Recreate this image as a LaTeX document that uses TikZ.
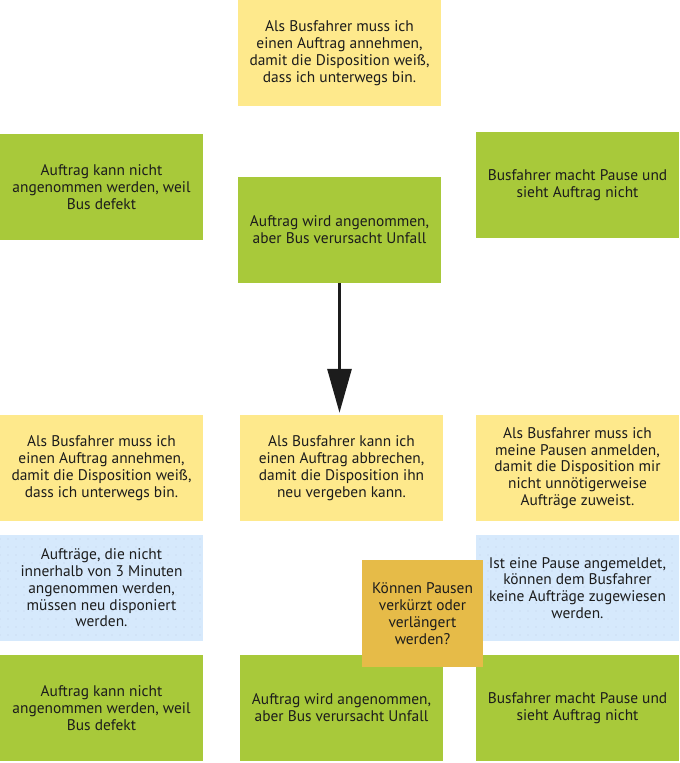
\documentclass[tikz,border=0pt]{standalone}
\usepackage{fontspec}
\setmainfont{PT Sans}
\usetikzlibrary{arrows.meta,patterns.meta}

\definecolor{stickyyellow}{HTML}{FEE98C}
\definecolor{stickygreen}{HTML}{A8C93A}
\definecolor{stickyblue}{HTML}{D6E9FC}
\definecolor{stickyorange}{HTML}{E6BB48}
\definecolor{inkdark}{HTML}{1C1C1C}

\tikzdeclarepattern{
  name=sparsedots,
  type=uncolored,
  bottom left={(-1pt,-1pt)},
  top right={(1pt,1pt)},
  tile size={(8pt,8pt)},
  code={\fill (0pt,0pt) circle (0.45pt);}
}

\begin{document}
\begin{tikzpicture}[x=1pt,y=-1pt,
  note/.style={rectangle, minimum width=203pt, minimum height=106pt, inner sep=0pt,
    align=center, text=inkdark, font=\fontsize{15.4}{16.8}\selectfont},
  yellownote/.style={note, fill=stickyyellow},
  greennote/.style={note, fill=stickygreen},
  bluenote/.style={note, fill=stickyblue,
    postaction={pattern=sparsedots, pattern color=stickyblue!85!blue!60!gray}},
  orangenote/.style={note, fill=stickyorange, minimum width=121pt, minimum height=107pt}]
\useasboundingbox (0,0) rectangle (680,763);

% top story
\node[yellownote] (story) at (339.5,53) {Als Busfahrer muss ich\\einen Auftrag annehmen,\\damit die Disposition weiß,\\dass ich unterwegs bin.};

% first row of cases
\node[greennote] (defekt) at (101.5,187) {Auftrag kann nicht\\angenommen werden, weil\\Bus defekt};
\node[greennote] (unfall) at (339.5,230) {Auftrag wird angenommen,\\aber Bus verursacht Unfall};
\node[greennote] (pause) at (577.5,185) {Busfahrer macht Pause und\\sieht Auftrag nicht};

% stories
\node[yellownote] (annehmen) at (101.5,468) {Als Busfahrer muss ich\\einen Auftrag annehmen,\\damit die Disposition weiß,\\dass ich unterwegs bin.};
\node[yellownote] (abbrechen) at (341.5,468) {Als Busfahrer kann ich\\einen Auftrag abbrechen,\\damit die Disposition ihn\\neu vergeben kann.};
\node[yellownote] (anmelden) at (577.5,468) {Als Busfahrer muss ich\\meine Pausen anmelden,\\damit die Disposition mir\\nicht unnötigerweise\\Aufträge zuweist.};

% rules
\node[bluenote] (regelzeit) at (101.5,588) {Aufträge, die nicht\\innerhalb von 3 Minuten\\angenommen werden,\\müssen neu disponiert\\werden.};
\node[bluenote] (regelpause) at (577.5,588) {Ist eine Pause angemeldet,\\können dem Busfahrer\\keine Aufträge zugewiesen\\werden.};

% second row of cases
\node[greennote] (defekt2) at (101.5,708) {Auftrag kann nicht\\angenommen werden, weil\\Bus defekt};
\node[greennote] (unfall2) at (341.5,708) {Auftrag wird angenommen,\\aber Bus verursacht Unfall};
\node[greennote] (pause2) at (577.5,708) {Busfahrer macht Pause und\\sieht Auftrag nicht};

% question
\node[orangenote] (frage) at (422.5,613.5) {Können Pausen\\verkürzt oder\\verlängert\\werden?};

\draw[inkdark, line width=3pt, -{Triangle[width=24pt,length=44pt]}, shorten >=2pt]
  (unfall.south) -- (unfall.south |- abbrechen.north);
\end{tikzpicture}
\end{document}
